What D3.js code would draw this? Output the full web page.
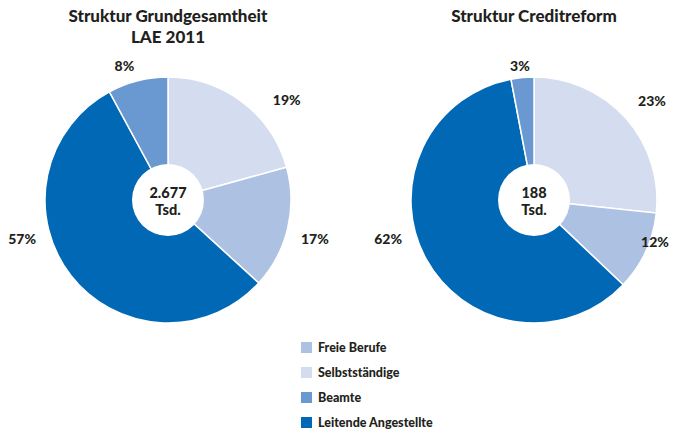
<!DOCTYPE html>
<html>
<head>
<meta charset="utf-8">
<script src="https://cdn.jsdelivr.net/npm/d3@7"></script>
<style>
  body { margin: 0; background: #fff; }
  svg text { font-family: "Lato", "Open Sans", sans-serif; font-weight: 900; fill: #231f20; }
</style>
</head>
<body>
<div id="chart"></div>
<script>
// categories in drawing order (clockwise from 12 o'clock)
const categories = ['Selbstständige', 'Freie Berufe', 'Leitende Angestellte', 'Beamte']
const colors = ['#d4ddef', '#adc1e2', '#0068b4', '#6a98d0']

// slice shares as drawn, and printed labels
const shareLAE = [20.7, 16.1, 55.3, 7.9]
const labelLAE = ['19%', '17%', '57%', '8%']
const shareCR = [26.7, 10.4, 59.9, 3.0]
const labelCR = ['23%', '12%', '62%', '3%']

const totals = ['2.677', '188']
const titles = [['Struktur Grundgesamtheit', 'LAE 2011'], ['Struktur Creditreform']]

// legend order
const legendItems = ['Freie Berufe', 'Selbstständige', 'Beamte', 'Leitende Angestellte']

const W = 695, H = 433
const R = 123, r0 = 36

// label placement (polar: angle in degrees clockwise from top, radius)
const labelPolar = [
  [[50, 155], [105, 152], [255, 151], [342, 141]],
  [[50, 154], [109, 128], [255, 151], [354, 135]]
]

const svg = d3.select('#chart').append('svg')
  .attr('width', W).attr('height', H)

const color = d3.scaleOrdinal().domain(categories).range(colors)
const pie = d3.pie().sort(null).value(d => d.v)
const arc = d3.arc().innerRadius(0).outerRadius(R)

function drawPie(cx, cy, shares, labels, idx) {
  let data = categories.map((c, i) => ({ c, v: shares[i], label: labels[i] }))
  let g = svg.append('g').attr('transform', `translate(${cx},${cy})`)

  g.selectAll('path')
    .data(pie(data))
    .enter().append('path')
    .attr('d', arc)
    .attr('fill', d => color(d.data.c))
    .attr('stroke', '#fff')
    .attr('stroke-width', 1.5)

  g.append('circle').attr('r', r0).attr('fill', '#fff')

  g.append('text').attr('text-anchor', 'middle').attr('y', -2)
    .style('font-size', '14.5px').text(totals[idx])
  g.append('text').attr('text-anchor', 'middle').attr('y', 15)
    .style('font-size', '14.5px').text('Tsd.')

  g.selectAll('.pct')
    .data(data)
    .enter().append('text')
    .attr('class', 'pct')
    .attr('text-anchor', 'middle')
    .attr('dy', '0.35em')
    .style('font-size', '14px')
    .attr('x', (d, i) => labelPolar[idx][i][1] * Math.sin(labelPolar[idx][i][0] * Math.PI / 180))
    .attr('y', (d, i) => -labelPolar[idx][i][1] * Math.cos(labelPolar[idx][i][0] * Math.PI / 180))
    .text(d => d.label)

  let t = svg.append('text').attr('text-anchor', 'middle')
    .attr('x', cx).attr('y', 22).style('font-size', '17px')
  titles[idx].forEach((line, i) => {
    t.append('tspan').attr('x', cx).attr('dy', i ? 21 : 0).text(line)
  })
}

drawPie(168, 200, shareLAE, labelLAE, 0)
drawPie(534, 200, shareCR, labelCR, 1)

// legend
let legend = svg.append('g').attr('transform', 'translate(301,342)')
let item = legend.selectAll('g')
  .data(legendItems)
  .enter().append('g')
  .attr('transform', (d, i) => `translate(0,${i * 25})`)
item.append('rect').attr('width', 11).attr('height', 11).attr('fill', d => color(d))
item.append('text').attr('x', 17).attr('y', 10).style('font-size', '12.5px').text(d => d)
</script>
</body>
</html>
